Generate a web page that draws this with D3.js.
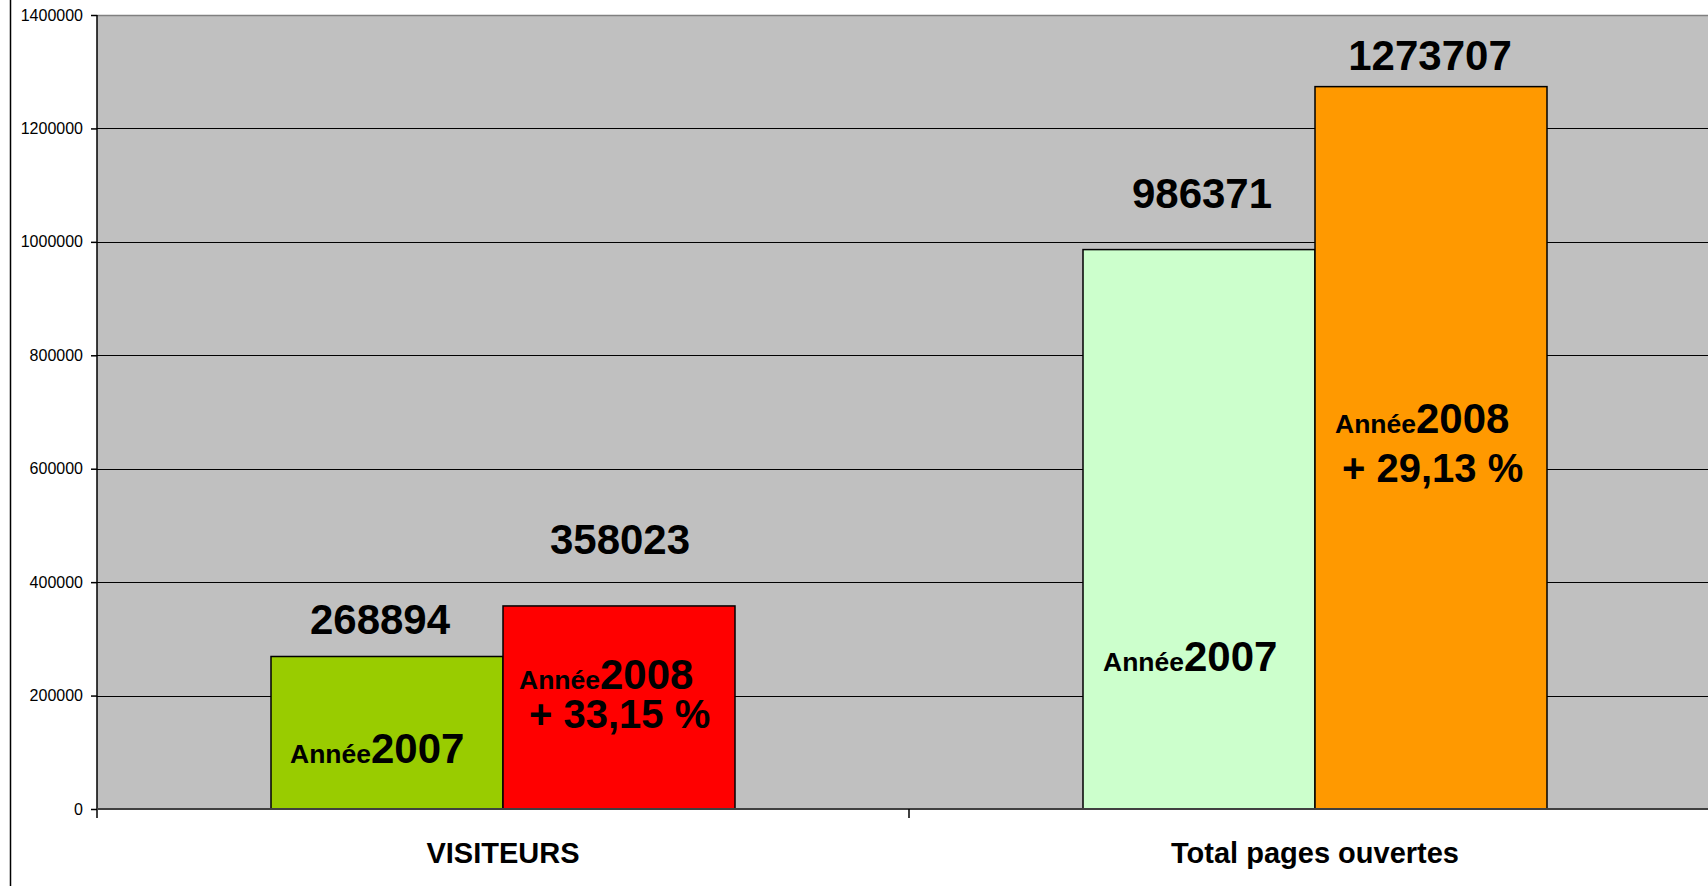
<!DOCTYPE html>
<html>
<head>
<meta charset="utf-8">
<script src="https://cdn.jsdelivr.net/npm/d3@7"></script>
<style>
  html, body { margin: 0; padding: 0; background: #fff; }
  svg { display: block; font-family: Arial, "Liberation Sans", sans-serif; }
</style>
</head>
<body>
<div id="chart"></div>
<script>
// Data
const categories = ['VISITEURS', 'Total pages ouvertes'];
const years = ['2007', '2008'];
const values2007 = [268894, 986371];
const values2008 = [358023, 1273707];
const growth = ['+ 33,15 %', '+ 29,13 %'];
const yTicks = [0, 200000, 400000, 600000, 800000, 1000000, 1200000, 1400000];

// Colours per category / year
const barColors = [
  ['#99cc00', '#ff0000'],
  ['#ccffcc', '#ff9900']
];

// Hand-placed label offsets (px), as in the original sheet
// value label: dx from bar centre, dy from bar top to baseline
const valueOffsets = [
  [{ dx: -7, dy: -22 }, { dx: 1, dy: -52 }],
  [{ dx: 3, dy: -42 }, { dx: -1, dy: -17 }]
];
// inner label: dx from bar left, dy from bar top to baseline of "Année…", dy2 for growth line
const innerOffsets = [
  [{ dx: 19, dy: 107 }, { dx: 16, dy: 83, dx2: 26, dy2: 122 }],
  [{ dx: 20, dy: 421 }, { dx: 20, dy: 346, dx2: 27, dy2: 395 }]
];

const width = 1708, height = 886;
const plot = { left: 97, top: 15, bottom: 809, right: 1721 };

const svg = d3.select('#chart')
  .append('svg')
  .attr('width', width)
  .attr('height', height);

// Scales
const x0 = d3.scaleBand()
  .domain(categories)
  .range([plot.left, plot.right])
  .paddingInner(0)
  .paddingOuter(0);

const x1 = d3.scaleBand()
  .domain(years)
  .range([0, x0.bandwidth()])
  .paddingInner(0)
  .paddingOuter(0.75);

const y = d3.scaleLinear()
  .domain([0, 1400000])
  .range([plot.bottom, plot.top]);

// Outer frame line on the left
svg.append('line')
  .attr('x1', 10.5).attr('x2', 10.5)
  .attr('y1', 0).attr('y2', height)
  .style('stroke', '#000')
  .style('stroke-width', 1.5);

// Plot background
svg.append('rect')
  .attr('x', plot.left)
  .attr('y', plot.top)
  .attr('width', plot.right - plot.left)
  .attr('height', plot.bottom - plot.top)
  .style('fill', '#c0c0c0');

// Top border
svg.append('line')
  .attr('x1', plot.left).attr('x2', width)
  .attr('y1', plot.top + 0.5).attr('y2', plot.top + 0.5)
  .style('stroke', '#808080')
  .style('stroke-width', 1.5);

// Grid lines
svg.selectAll('.grid')
  .data(yTicks.filter(d => d > 0 && d < 1400000))
  .enter()
  .append('line')
  .attr('class', 'grid')
  .attr('x1', plot.left)
  .attr('x2', width)
  .attr('y1', d => Math.round(y(d)) + 0.5)
  .attr('y2', d => Math.round(y(d)) + 0.5)
  .style('stroke', '#000')
  .style('stroke-width', 1);

// Bars
const groups = svg.selectAll('.group')
  .data(categories)
  .enter()
  .append('g')
  .attr('class', 'group')
  .attr('transform', d => `translate(${x0(d)},0)`);

const barData = (c, i) => years.map((yr, j) => ({
  ci: i, j, year: yr,
  value: j === 0 ? values2007[i] : values2008[i]
}));

groups.selectAll('rect')
  .data(barData)
  .enter()
  .append('rect')
  .attr('x', d => x1(d.year))
  .attr('y', d => y(d.value))
  .attr('width', x1.bandwidth())
  .attr('height', d => y(0) - y(d.value))
  .style('fill', d => barColors[d.ci][d.j])
  .style('stroke', '#000')
  .style('stroke-width', 1.5);

// Value labels above bars
groups.selectAll('.value-label')
  .data(barData)
  .enter()
  .append('text')
  .attr('class', 'value-label')
  .attr('x', d => x1(d.year) + x1.bandwidth() / 2 + valueOffsets[d.ci][d.j].dx)
  .attr('y', d => y(d.value) + valueOffsets[d.ci][d.j].dy)
  .attr('text-anchor', 'middle')
  .style('font-size', '42px')
  .style('font-weight', 'bold')
  .style('fill', '#000')
  .text(d => d.value);

// Inner labels "Année2007" / "Année2008"
const inner = groups.selectAll('.inner-label')
  .data(barData)
  .enter()
  .append('text')
  .attr('class', 'inner-label')
  .attr('x', d => x1(d.year) + innerOffsets[d.ci][d.j].dx)
  .attr('y', d => y(d.value) + innerOffsets[d.ci][d.j].dy)
  .style('font-weight', 'bold')
  .style('fill', '#000');

inner.append('tspan')
  .style('font-size', '26.5px')
  .text('Année');

inner.append('tspan')
  .style('font-size', '42px')
  .text(d => d.year);

// Growth labels in the 2008 bars
groups.selectAll('.growth-label')
  .data((c, i) => barData(c, i).filter(d => d.j === 1))
  .enter()
  .append('text')
  .attr('class', 'growth-label')
  .attr('x', d => x1(d.year) + innerOffsets[d.ci][d.j].dx2)
  .attr('y', d => y(d.value) + innerOffsets[d.ci][d.j].dy2)
  .style('font-size', '40px')
  .style('font-weight', 'bold')
  .style('fill', '#000')
  .text(d => growth[d.ci]);

// Y axis
const yAxis = d3.axisLeft(y)
  .tickValues(yTicks)
  .tickSize(6)
  .tickPadding(8)
  .tickFormat(d3.format('d'));

svg.append('g')
  .attr('class', 'y-axis')
  .attr('transform', `translate(${plot.left},0)`)
  .call(yAxis)
  .call(g => g.select('.domain').remove())
  .selectAll('text')
  .style('font-family', 'Arial, "Liberation Sans", sans-serif')
  .style('font-size', '16px')
  .style('fill', '#000');

svg.selectAll('.y-axis .tick line')
  .style('stroke', '#000')
  .style('stroke-width', 1.5);

svg.append('line')
  .attr('x1', plot.left).attr('x2', plot.left)
  .attr('y1', plot.top).attr('y2', plot.bottom + 9)
  .style('stroke', '#000')
  .style('stroke-width', 1.5);

// X axis
svg.append('line')
  .attr('x1', plot.left).attr('x2', width)
  .attr('y1', plot.bottom).attr('y2', plot.bottom)
  .style('stroke', '#404040')
  .style('stroke-width', 2);

svg.selectAll('.x-tick')
  .data(categories.slice(1))
  .enter()
  .append('line')
  .attr('class', 'x-tick')
  .attr('x1', d => x0(d))
  .attr('x2', d => x0(d))
  .attr('y1', plot.bottom)
  .attr('y2', plot.bottom + 9)
  .style('stroke', '#000')
  .style('stroke-width', 1.5);

svg.selectAll('.x-label')
  .data(categories)
  .enter()
  .append('text')
  .attr('class', 'x-label')
  .attr('x', d => x0(d) + x0.bandwidth() / 2)
  .attr('y', 863)
  .attr('text-anchor', 'middle')
  .style('font-size', '29px')
  .style('font-weight', 'bold')
  .style('fill', '#000')
  .text(d => d);
</script>
</body>
</html>
